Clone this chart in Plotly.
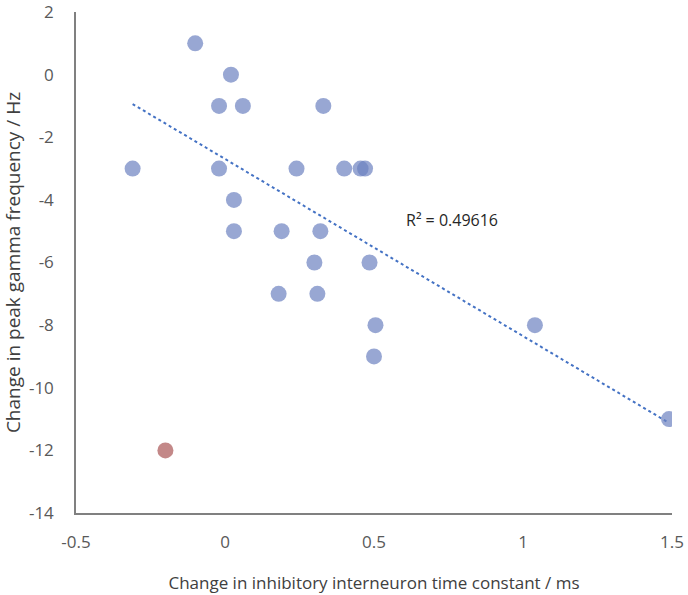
import numpy as np
import plotly.graph_objects as go

# Blue series: change in inhibitory interneuron time constant (ms) vs change in peak gamma frequency (Hz)
x_blue = [-0.10, 0.02, -0.02, 0.06, 0.33, -0.31, -0.02, 0.24, 0.40, 0.455, 0.47,
          0.03, 0.03, 0.19, 0.32, 0.30, 0.485, 0.18, 0.31, 0.505, 1.04, 0.50, 1.49]
y_blue = [1, 0, -1, -1, -1, -3, -3, -3, -3, -3, -3,
          -4, -5, -5, -5, -6, -6, -7, -7, -8, -8, -9, -11]

# Outlier (red)
x_red = [-0.20]
y_red = [-12]

r2_label = "R² = 0.49616"
x_ticks = [-0.5, 0, 0.5, 1, 1.5]
x_tick_text = ["-0.5", "0", "0.5", "1", "1.5"]
y_ticks = [2, 0, -2, -4, -6, -8, -10, -12, -14]
y_tick_text = ["2", "0", "-2", "-4", "-6", "-8", "-10", "-12", "-14"]

# Linear trendline through blue points
slope, intercept = np.polyfit(x_blue, y_blue, 1)
x_line = [min(x_blue), max(x_blue)]
y_line = [slope * v + intercept for v in x_line]

fig = go.Figure()
fig.add_trace(go.Scatter(
    x=x_line, y=y_line, mode="lines",
    line=dict(color="#4472C4", width=2, dash="dot"),
    hoverinfo="skip", showlegend=False))
fig.add_trace(go.Scatter(
    x=x_blue, y=y_blue, mode="markers",
    marker=dict(size=16, color="rgb(108,130,192)", opacity=0.7, line=dict(width=0)),
    showlegend=False))
fig.add_trace(go.Scatter(
    x=x_red, y=y_red, mode="markers",
    marker=dict(size=16, color="rgb(170,85,85)", opacity=0.7, line=dict(width=0)),
    showlegend=False))

fig.add_annotation(x=0.60, y=-4.65, xanchor="left", yanchor="middle",
                   text=r2_label, showarrow=False,
                   font=dict(family="Open Sans, sans-serif", size=16, color="#262626"))

fig.update_layout(
    width=688, height=595,
    margin=dict(l=76, r=16, t=12, b=82),
    paper_bgcolor="white", plot_bgcolor="white",
    font=dict(family="Open Sans, sans-serif", color="#595959"),
    xaxis=dict(range=[-0.5, 1.5], tickvals=x_ticks, ticktext=x_tick_text,
               automargin=False, ticklabeloverflow="allow",
               showgrid=False, zeroline=False, showline=True, linecolor="#808080",
               linewidth=1.5, ticks="", tickfont=dict(size=17, color="#595959"),
               ticklabelstandoff=13,
               title=dict(text="Change in inhibitory interneuron time constant / ms",
                          font=dict(size=17, color="#404040"), standoff=25)),
    yaxis=dict(range=[-14, 2], tickvals=y_ticks, ticktext=y_tick_text,
               automargin=False, ticklabeloverflow="allow",
               showgrid=False, zeroline=False, showline=True, linecolor="#808080",
               linewidth=1.5, ticks="", tickfont=dict(size=17, color="#595959"),
               ticklabelstandoff=17,
               title=dict(text="Change in peak gamma frequency / Hz",
                          font=dict(size=19, color="#404040"), standoff=10)),
)

fig.write_html("out.html", config={"displayModeBar": False},
               post_script="document.body.style.margin='0';")
